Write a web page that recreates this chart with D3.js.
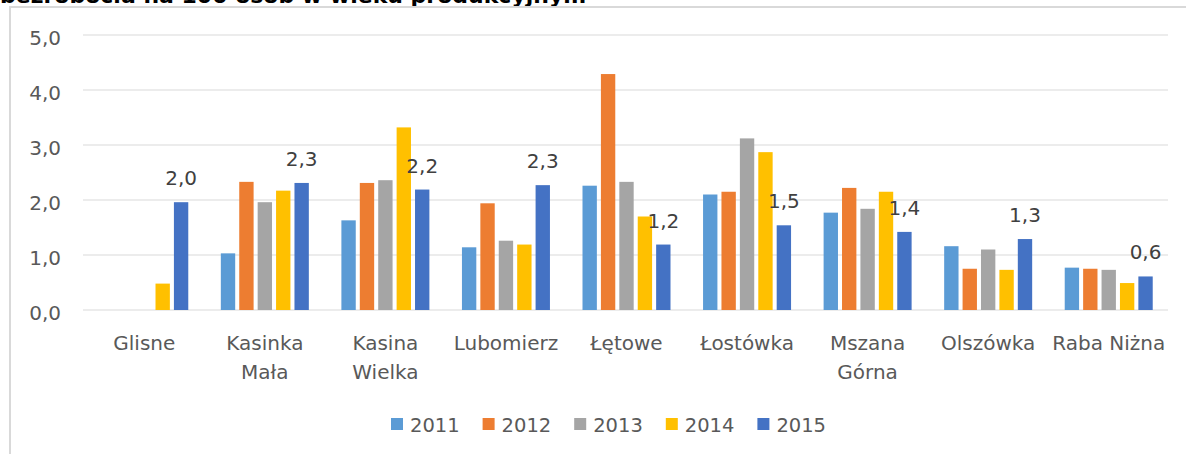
<!DOCTYPE html>
<html>
<head>
<meta charset="utf-8">
<script src="https://cdn.jsdelivr.net/npm/d3@7"></script>
<style>
  html, body { margin: 0; padding: 0; background: #fff; }
  svg { display: block; font-family: "DejaVu Sans", Verdana, sans-serif; }
</style>
</head>
<body>
<svg id="chart" width="1186" height="454"></svg>
<script>
// Unemployment per 100 working-age people, by village and year
const categories = ["Glisne", "Kasinka Mała", "Kasina Wielka", "Lubomierz", "Łętowe", "Łostówka", "Mszana Górna", "Olszówka", "Raba Niżna"];
const years = ["2011", "2012", "2013", "2014", "2015"];
const v2011 = [null, 1.03, 1.63, 1.14, 2.26, 2.10, 1.77, 1.16, 0.77];
const v2012 = [null, 2.33, 2.31, 1.94, 4.29, 2.15, 2.22, 0.75, 0.75];
const v2013 = [null, 1.96, 2.36, 1.26, 2.33, 3.12, 1.84, 1.10, 0.73];
const v2014 = [0.48, 2.17, 3.32, 1.19, 1.70, 2.87, 2.15, 0.73, 0.49];
const v2015 = [1.96, 2.31, 2.19, 2.27, 1.19, 1.54, 1.42, 1.29, 0.61];
const yTicks = [0, 1, 2, 3, 4, 5];
const colors = ["#5B9BD5", "#ED7D31", "#A5A5A5", "#FFC000", "#4472C4"];
const titleText = "bezrobocia na 100 osób w wieku produkcyjnym";

const series = [v2011, v2012, v2013, v2014, v2015];
const fmt = v => d3.format(".1f")(v).replace(".", ",");

const svg = d3.select("#chart");

// Chart title (its upper part runs above the page)
svg.append("text")
  .attr("x", 0).attr("y", 3)
  .attr("font-size", 22).attr("font-weight", "bold").attr("fill", "#000")
  .text(titleText);

// Chart area frame
svg.append("rect")
  .attr("x", 10).attr("y", 7).attr("width", 1200).attr("height", 470)
  .attr("fill", "none").attr("stroke", "#d9d9d9").attr("stroke-width", 2);

const x0 = d3.scaleBand().domain(categories).range([84, 1169]).padding(0);
const groupW = 88;
const x1 = d3.scaleBand().domain(years).range([0, groupW]).paddingInner(0.22).paddingOuter(0);
const y = d3.scaleLinear().domain([0, 5]).range([310, 35]);

// Gridlines
svg.append("g").selectAll("line").data(yTicks).join("line")
  .attr("x1", 83).attr("x2", 1168)
  .attr("y1", d => y(d)).attr("y2", d => y(d))
  .attr("stroke", "#d9d9d9").attr("stroke-width", 1);

// Y tick labels
svg.append("g").selectAll("text").data(yTicks).join("text")
  .attr("x", 61).attr("y", d => y(d) + 10)
  .attr("text-anchor", "end").attr("font-size", 20).attr("fill", "#595959")
  .text(d => fmt(d));

// Bars
const groups = svg.append("g").selectAll("g").data(categories).join("g")
  .attr("transform", d => `translate(${x0(d) + (x0.bandwidth() - groupW) / 2},0)`);

groups.selectAll("rect")
  .data((c, i) => years.map((yr, k) => ({ yr, k, v: series[k][i] })).filter(d => d.v != null))
  .join("rect")
  .attr("x", d => x1(d.yr))
  .attr("width", x1.bandwidth())
  .attr("y", d => y(d.v))
  .attr("height", d => y(0) - y(d.v))
  .attr("fill", d => colors[d.k]);

// Value labels on 2015 bars
groups.append("text")
  .attr("x", x1("2015") + x1.bandwidth() / 2)
  .attr("y", (c, i) => y(v2015[i]) - 17)
  .attr("text-anchor", "middle").attr("font-size", 20).attr("fill", "#404040")
  .text((c, i) => fmt(v2015[i]));

// Category labels, wrapped to band width
const catG = svg.append("g");
categories.forEach(c => {
  const cx = x0(c) + x0.bandwidth() / 2;
  const t = catG.append("text")
    .attr("x", cx).attr("y", 350)
    .attr("text-anchor", "middle").attr("font-size", 20).attr("fill", "#595959")
    .text(c);
  if (t.node().getComputedTextLength() > x0.bandwidth()) {
    const words = c.split(" ");
    t.text(null);
    words.forEach((w, i) => {
      t.append("tspan").attr("x", cx).attr("y", 350 + i * 29).text(w);
    });
  }
});

// Legend
const legend = svg.append("g");
years.forEach((yr, k) => {
  const lx = 391 + k * 91.6;
  legend.append("rect")
    .attr("x", lx).attr("y", 418).attr("width", 12).attr("height", 12)
    .attr("fill", colors[k]);
  legend.append("text")
    .attr("x", lx + 19).attr("y", 432)
    .attr("font-size", 19.5).attr("fill", "#595959")
    .text(yr);
});
</script>
</body>
</html>
